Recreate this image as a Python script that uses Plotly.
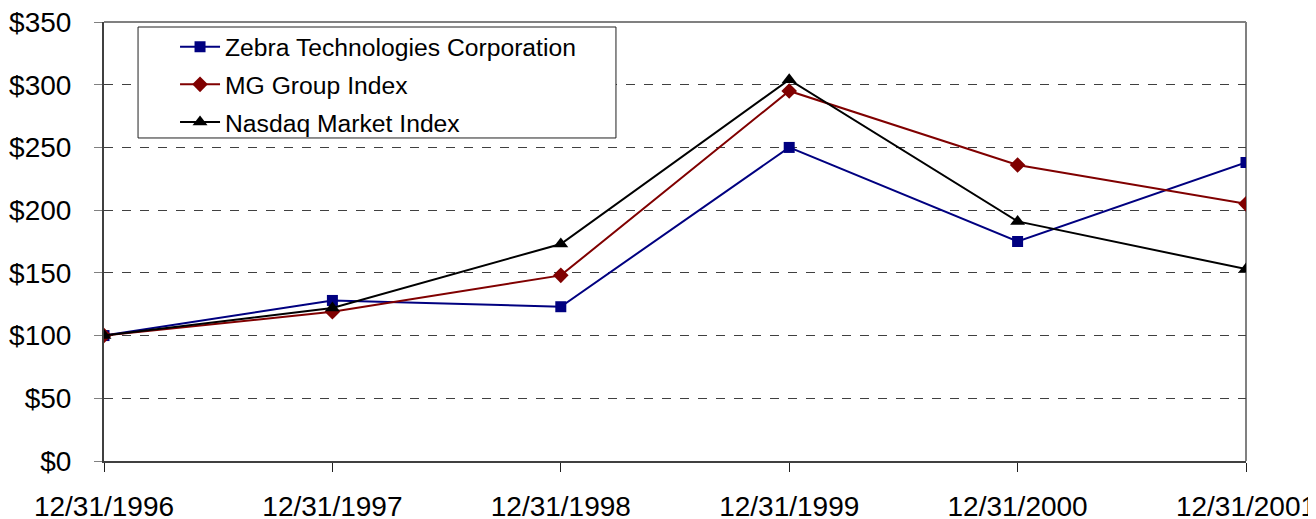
import plotly.graph_objects as go

dates = ["12/31/1996", "12/31/1997", "12/31/1998", "12/31/1999", "12/31/2000", "12/31/2001"]
zebra = [100, 128, 123, 250, 175, 238]
mg_group = [100, 119, 148, 295, 236, 205]
nasdaq = [100, 122, 173, 304, 191, 153]
y_ticks = [0, 50, 100, 150, 200, 250, 300, 350]
y_labels = ["$" + str(v) for v in y_ticks]

fig = go.Figure()
fig.add_trace(go.Scatter(x=dates, y=zebra, name="Zebra Technologies Corporation",
                         mode="lines+markers", line=dict(color="#000080", width=2),
                         legendgroup="a",
                         marker=dict(symbol="square", size=11, color="#000080")))
fig.add_trace(go.Scatter(x=dates, y=mg_group, name="MG Group Index",
                         mode="lines+markers", line=dict(color="#800000", width=2),
                         legendgroup="b",
                         marker=dict(symbol="diamond", size=12, color="#800000")))
fig.add_trace(go.Scatter(x=dates, y=nasdaq, name="Nasdaq Market Index",
                         mode="lines+markers", line=dict(color="#000000", width=2),
                         legendgroup="c",
                         marker=dict(symbol="triangle-up", size=13, color="#000000")))

fig.update_layout(
    width=1308, height=511,
    margin=dict(l=96, r=70, t=14, b=58, autoexpand=False),
    paper_bgcolor="white", plot_bgcolor="white",
    font=dict(family="Liberation Sans, Arial, sans-serif", size=28, color="#000000"),
    showlegend=True,
    legend=dict(x=0.0622, y=0.995, xanchor="left", yanchor="top",
                bgcolor="rgba(0,0,0,0)", borderwidth=0,
                font=dict(size=24.7), tracegroupgap=2.5, itemwidth=40),
    xaxis=dict(type="category", range=[0, 5], showgrid=False, automargin=False,
               showline=True, linecolor="#404040", linewidth=2,
               ticks="outside", ticklen=9, tickcolor="#202020",
               tickfont=dict(size=28), ticklabelstandoff=10,
               ticklabeloverflow="allow", zeroline=False),
    yaxis=dict(range=[0, 350], tickvals=y_ticks, ticktext=y_labels, automargin=False,
               showgrid=True, gridcolor="#404040", griddash="dash", gridwidth=1,
               showline=True, linecolor="#404040", linewidth=2,
               ticks="outside", ticklen=8, tickcolor="#808080",
               tickfont=dict(size=28), ticklabelstandoff=17,
               ticklabeloverflow="allow", zeroline=False),
    shapes=[
        dict(type="line", xref="paper", yref="paper", x0=0, x1=1, y0=1, y1=1,
             line=dict(color="#808080", width=2), layer="below"),
        dict(type="line", xref="paper", yref="paper", x0=1, x1=1, y0=0, y1=1,
             line=dict(color="#808080", width=2), layer="below"),
        dict(type="rect", xref="paper", yref="paper", x0=0.0298, x1=0.4483,
             y0=0.7358, y1=0.9886, fillcolor="white",
             line=dict(color="#202020", width=1), layer="above"),
    ],
)

fig.write_html("out.html")
